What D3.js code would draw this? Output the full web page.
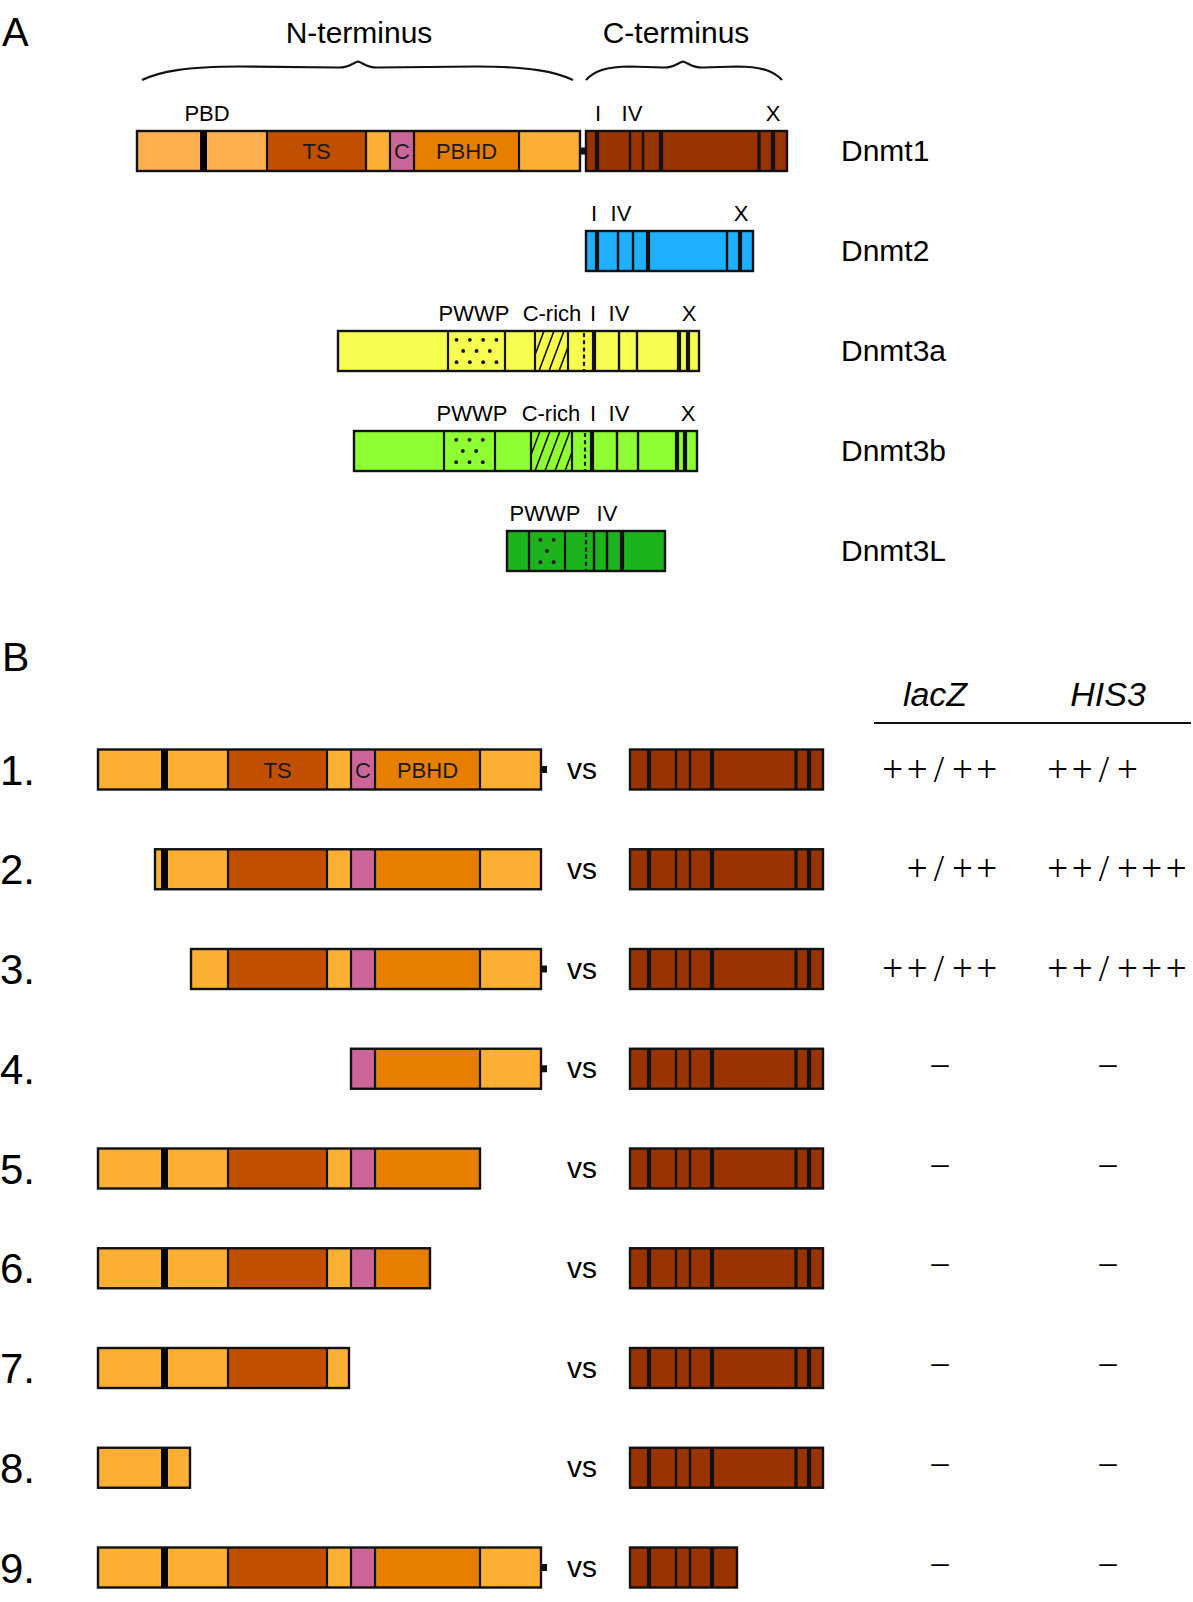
<!DOCTYPE html>
<html><head><meta charset="utf-8">
<script src="https://cdn.jsdelivr.net/npm/d3@7"></script>
<style>body{margin:0;background:#fff}svg{display:block}</style>
</head><body>
<svg id="c" width="1193" height="1602"></svg>
<script>
// ================= DATA =================
// ---- Panel A: domain architecture (positions in residue-like units on a shared axis)
const proteins = ["Dnmt1", "Dnmt2", "Dnmt3a", "Dnmt3b", "Dnmt3L"];
// Dnmt1 N-terminal regulatory segments
const dnmt1NSegments = [
  {from: 0,   to: 63,  kind: "pbdFlank"},
  {from: 63,  to: 70,  kind: "bar"},
  {from: 70,  to: 130, kind: "pbdFlank"},
  {from: 130, to: 229, kind: "TS",   label: "TS"},
  {from: 229, to: 253, kind: "light"},
  {from: 253, to: 277, kind: "C",    label: "C"},
  {from: 277, to: 382, kind: "PBHD", label: "PBHD"},
  {from: 382, to: 443, kind: "light"}
];
const dnmt1NEnd = 443;
// catalytic / main boxes, per protein
const catFrom = [449, 449, 201, 217, 370];
const catTo   = [650, 616, 562, 560, 528];
// conserved motif lines (position, weight 1 = thin, 2 = thick)
const motifsA = [
  [[460, 2], [493, 1], [506, 1], [524, 2], [622, 1.5], [636, 2]],
  [[460, 2], [481, 1], [496, 1], [511, 2], [590, 1], [603, 2]],
  [[457, 2], [482, 1], [500, 1], [542, 2], [551, 2]],
  [[455, 2], [480, 1], [501, 1], [540, 2], [548, 2]],
  [[457, 1], [470, 1], [485, 2]]
];
const pwwpA   = [null, null, [311, 368], [307, 358], [392, 428]];
const cRichA  = [null, null, [398, 431], [394, 435], null];
const dashedA = [null, null, 447, 448, 449];
const labelsA = [
  [["PBD", 70], ["I", 461], ["IV", 495], ["X", 636]],
  [["I", 457], ["IV", 484], ["X", 604]],
  [["PWWP", 337], ["C-rich", 415], ["I", 456], ["IV", 482], ["X", 552]],
  [["PWWP", 335], ["C-rich", 414], ["I", 456], ["IV", 482], ["X", 551]],
  [["PWWP", 408], ["IV", 470]]
];
const braceLabels = ["N-terminus", "C-terminus"];
const braceFrom   = [5, 449];
const braceTo     = [436, 645];
const braceTip    = [221, 546];
const braceText   = [222, 539];

// ---- Panel B: two-hybrid constructs
const constructs = ["1.", "2.", "3.", "4.", "5.", "6.", "7.", "8.", "9."];
const nStart  = [0, 57, 93, 253, 0, 0, 0, 0, 0];
const nEnd    = [443, 443, 443, 443, 382, 332, 251, 92, 443];
const linker  = [true, false, true, true, false, false, false, false, true];
const cEnd    = [193, 193, 193, 193, 193, 193, 193, 193, 107];
const cMotifs = [[19, 2], [46, 1], [60, 1], [82, 2], [166, 1.5], [179, 2]];
const lacZ = ["++/++", "+/++", "++/++", "–", "–", "–", "–", "–", "–"];
const his3 = ["++/+", "++/+++", "++/+++", "–", "–", "–", "–", "–", "–"];
const assays = ["lacZ", "HIS3"];

// ================= STYLE =================
const FONT = "'Liberation Sans', Arial, Helvetica, sans-serif";
const SERIF = "'Liberation Serif', 'Times New Roman', serif";
const INK = "#111";
const paletteA = {pbdFlank: "#FDAE4E", light: "#FBB034", TS: "#C04F00", C: "#CC6699", PBHD: "#E67E00", bar: "#000"};
const paletteB = {pbdFlank: "#FBB034", light: "#FBB034", TS: "#C04F00", C: "#CC6699", PBHD: "#E67E00", bar: "#000"};
const protColor = ["#993300", "#1FB0FF", "#F6FF50", "#8EFF33", "#1DB31D"];
const wMap = w => (w === 2 ? 4.2 : w === 1.5 ? 3.2 : 2.4);
const H = 40;

const svg = d3.select("#c");
const xA = d3.scaleLinear().domain([0, 700]).range([137, 837]);
const yA = d3.scalePoint().domain(proteins).range([151, 551]);
const xBN = d3.scaleLinear().domain([0, 700]).range([98, 798]);
const xBC = d3.scaleLinear().domain([0, 200]).range([630, 830]);
const yB = d3.scalePoint().domain(constructs).range([769.5, 1567.5]);

// ---------- helpers ----------
function drawDnmt1N(g, x, yc, from, to, hasLinker, pal, showLabels) {
  const top = yc - H / 2;
  const segs = dnmt1NSegments.filter(s => s.to > from && s.from < to)
    .map(s => Object.assign({}, s, {a: Math.max(s.from, from), b: Math.min(s.to, to)}));
  g.append("g").selectAll("rect").data(segs).join("rect")
    .attr("x", d => x(d.a)).attr("y", top)
    .attr("width", d => x(d.b) - x(d.a)).attr("height", H)
    .attr("fill", d => pal[d.kind]);
  const bounds = segs.slice(1).filter((s, i) => s.kind !== "bar" && segs[i].kind !== "bar").map(s => s.a);
  g.append("g").selectAll("line").data(bounds).join("line")
    .attr("x1", d => x(d)).attr("x2", d => x(d)).attr("y1", top).attr("y2", top + H)
    .attr("stroke", INK).attr("stroke-width", 2.2);
  g.append("rect").attr("x", x(from)).attr("y", top).attr("width", x(to) - x(from)).attr("height", H)
    .attr("fill", "none").attr("stroke", INK).attr("stroke-width", 2.4);
  if (hasLinker) {
    g.append("rect").attr("x", x(to)).attr("y", yc - 3.5).attr("width", x(to + 6) - x(to)).attr("height", 7).attr("fill", INK);
  }
  if (showLabels) {
    g.append("g").selectAll("text").data(segs.filter(s => s.label)).join("text")
      .attr("x", d => x((d.a + d.b) / 2)).attr("y", yc + 8)
      .attr("text-anchor", "middle").attr("font-family", FONT).attr("font-size", 22)
      .attr("fill", "#1a1a1a").text(d => d.label);
  }
}

function drawCat(g, x, yc, from, to, fill, motifs) {
  const top = yc - H / 2;
  g.append("rect").attr("x", x(from)).attr("y", top).attr("width", x(to) - x(from)).attr("height", H)
    .attr("fill", fill);
  g.append("g").selectAll("line").data(motifs.filter(m => m[0] > from && m[0] < to)).join("line")
    .attr("x1", d => x(d[0])).attr("x2", d => x(d[0])).attr("y1", top).attr("y2", top + H)
    .attr("stroke", INK).attr("stroke-width", d => wMap(d[1]));
}
function outline(g, x, yc, from, to) {
  g.append("rect").attr("x", x(from)).attr("y", yc - H / 2).attr("width", x(to) - x(from)).attr("height", H)
    .attr("fill", "none").attr("stroke", INK).attr("stroke-width", 2.4);
}

function bracePath(x1, x2, xm, yE, yF, yT) {
  const r1 = Math.min(105, (xm - x1) * 0.45), r2 = Math.min(105, (x2 - xm) * 0.45);
  return `M${x1},${yE} C${x1 + r1 * 0.18},${yF + 5} ${x1 + r1 * 0.45},${yF} ${x1 + r1},${yF} ` +
    `L${xm - 20},${yF + 1} C${xm - 9},${yF + 1.5} ${xm - 5},${yT + 1} ${xm},${yT} ` +
    `C${xm + 5},${yT + 1} ${xm + 9},${yF + 1.5} ${xm + 20},${yF + 1} ` +
    `L${x2 - r2},${yF} C${x2 - r2 * 0.45},${yF} ${x2 - r2 * 0.18},${yF + 5} ${x2},${yE}`;
}

// ================= PANEL A =================
const gA = svg.append("g");
gA.append("text").attr("x", 2).attr("y", 46).attr("font-family", FONT).attr("font-size", 40).text("A");

braceLabels.forEach((lab, i) => {
  gA.append("path").attr("d", bracePath(xA(braceFrom[i]), xA(braceTo[i]), xA(braceTip[i]), 80, 66.5, 61.5))
    .attr("fill", "none").attr("stroke", INK).attr("stroke-width", 2.2);
  gA.append("text").attr("x", xA(braceText[i])).attr("y", 43).attr("text-anchor", "middle")
    .attr("font-family", FONT).attr("font-size", 30).text(lab);
});

const defs = svg.append("defs");
proteins.forEach((p, i) => {
  const yc = yA(p), top = yc - H / 2;
  const g = gA.append("g");
  if (i === 0) {
    drawDnmt1N(g, xA, yc, 0, dnmt1NEnd, true, paletteA, true);
  }
  drawCat(g, xA, yc, catFrom[i], catTo[i], protColor[i], motifsA[i]);
  // PWWP with dots
  if (pwwpA[i]) {
    const [a, b] = pwwpA[i];
    const x0 = xA(a), x1 = xA(b), w = x1 - x0, sp = 13.3;
    const n = Math.floor(w / sp), off = (w - (n - 1) * sp) / 2;
    const dots = [];
    [0.22, 0.5, 0.78].forEach((fy, r) => {
      const cnt = r === 1 ? n - 1 : n, o = r === 1 ? off + sp / 2 : off;
      for (let k = 0; k < cnt; k++) dots.push([x0 + o + k * sp, top + fy * H]);
    });
    g.append("g").selectAll("circle").data(dots).join("circle")
      .attr("cx", d => d[0]).attr("cy", d => d[1]).attr("r", 1.9).attr("fill", INK);
    g.append("g").selectAll("line").data([a, b]).join("line")
      .attr("x1", d => xA(d)).attr("x2", d => xA(d)).attr("y1", top).attr("y2", top + H)
      .attr("stroke", INK).attr("stroke-width", 2.2);
  }
  // C-rich with hatching
  if (cRichA[i]) {
    const [a, b] = cRichA[i];
    const id = "clip" + i;
    defs.append("clipPath").attr("id", id).append("rect")
      .attr("x", xA(a)).attr("y", top).attr("width", xA(b) - xA(a)).attr("height", H);
    const hs = d3.range(xA(a) - 16, xA(b) + 2, 10);
    g.append("g").attr("clip-path", `url(#${id})`).selectAll("line").data(hs).join("line")
      .attr("x1", d => d).attr("y1", top + H).attr("x2", d => d + 15).attr("y2", top)
      .attr("stroke", INK).attr("stroke-width", 1.6);
    g.append("g").selectAll("line").data([a, b]).join("line")
      .attr("x1", d => xA(d)).attr("x2", d => xA(d)).attr("y1", top).attr("y2", top + H)
      .attr("stroke", INK).attr("stroke-width", 2.2);
  }
  if (dashedA[i] != null) {
    g.append("line").attr("x1", xA(dashedA[i])).attr("x2", xA(dashedA[i]))
      .attr("y1", top + 2).attr("y2", top + H - 1)
      .attr("stroke", INK).attr("stroke-width", 2.2).attr("stroke-dasharray", "4,3.2");
  }
  outline(g, xA, yc, catFrom[i], catTo[i]);
  // domain / motif labels
  g.append("g").selectAll("text").data(labelsA[i]).join("text")
    .attr("x", d => xA(d[1])).attr("y", top - 10.5).attr("text-anchor", "middle")
    .attr("font-family", FONT).attr("font-size", 22).text(d => d[0]);
  // protein name
  g.append("text").attr("x", 841).attr("y", yc + 9.5).attr("font-family", FONT).attr("font-size", 30).text(p);
});

// ================= PANEL B =================
const gB = svg.append("g");
gB.append("text").attr("x", 2).attr("y", 671).attr("font-family", FONT).attr("font-size", 41).text("B");
const colX = d3.scalePoint().domain(assays).range([939, 1104]);
gB.selectAll("text.hdr").data(assays).join("text").attr("class", "hdr")
  .attr("x", d => colX(d) + (d === "lacZ" ? -4 : 4)).attr("y", 706).attr("text-anchor", "middle")
  .attr("font-family", FONT).attr("font-style", "italic").attr("font-size", 34).text(d => d);
gB.append("line").attr("x1", 874).attr("x2", 1191).attr("y1", 723).attr("y2", 723)
  .attr("stroke", INK).attr("stroke-width", 2.2);

function drawResult(g, cx, yc, s, dashShift) {
  const t = (x, anchor, str, ls) => g.append("text").attr("x", x).attr("y", yc + 12)
    .attr("text-anchor", anchor).attr("font-family", SERIF)
    .attr("font-size", 37).attr("letter-spacing", ls).text(str);
  if (s.includes("/")) {
    const [l, r] = s.split("/");
    t(cx - 8, "end", l, 3.5);
    t(cx, "middle", "/", 0);
    t(cx + 13, "start", r, 3.5);
  } else {
    g.append("text").attr("x", cx + dashShift).attr("y", yc + 5).attr("text-anchor", "middle")
      .attr("font-family", SERIF).attr("font-size", 34).text(s);
  }
}

constructs.forEach((c, i) => {
  const yc = yB(c);
  const g = gB.append("g");
  g.append("text").attr("x", 0).attr("y", yc + 15).attr("font-family", FONT).attr("font-size", 42).text(c);
  drawDnmt1N(g, xBN, yc, nStart[i], nEnd[i], linker[i], paletteB, i === 0);
  g.append("text").attr("x", 567).attr("y", yc + 9.5).attr("font-family", FONT).attr("font-size", 30).text("vs");
  drawCat(g, xBC, yc, 0, cEnd[i], protColor[0], cMotifs);
  outline(g, xBC, yc, 0, cEnd[i]);
  drawResult(g, colX("lacZ"), yc, lacZ[i], 1);
  drawResult(g, colX("HIS3"), yc, his3[i], 4);
});
</script>
</body></html>
